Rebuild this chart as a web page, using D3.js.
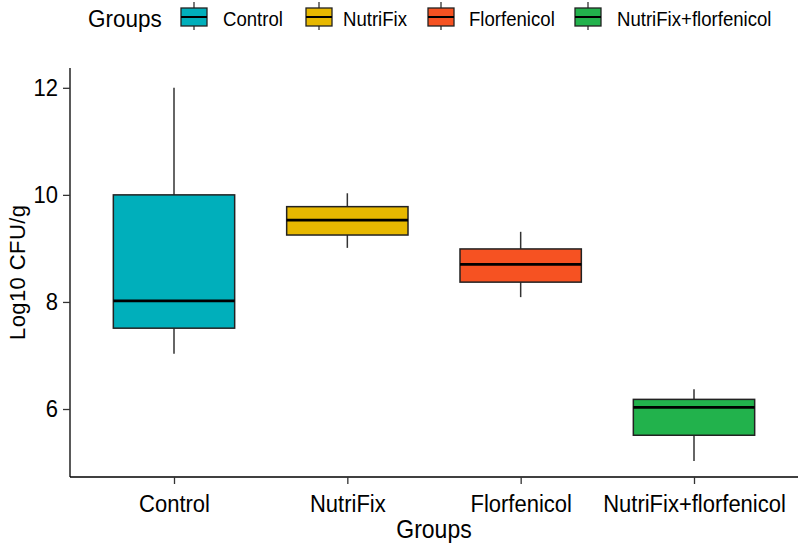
<!DOCTYPE html>
<html>
<head>
<meta charset="utf-8">
<script src="https://cdn.jsdelivr.net/npm/d3@7"></script>
<style>
  body { margin: 0; background: #fff; }
  text { font-family: "Liberation Sans", Arial, sans-serif; }
  text:not(.rot) { transform-box: fill-box; transform-origin: center; transform: scaleY(1.1); }
</style>
</head>
<body>
<svg id="chart" width="800" height="551"></svg>
<script>
const categories = ["Control", "NutriFix", "Florfenicol", "NutriFix+florfenicol"];
const whiskerLow  = [7.03, 9.01, 8.09, 5.03];
const q1          = [7.51, 9.25, 8.37, 5.51];
const medians     = [8.02, 9.53, 8.70, 6.03];
const q3          = [10.0, 9.78, 8.99, 6.18];
const whiskerHigh = [12.0, 10.03, 9.31, 6.37];
const colors      = ["#00AFBB", "#E7B800", "#F65222", "#22B24C"];
const yTicks      = [6, 8, 10, 12];

const data = categories.map((c, i) => ({
  cat: c, lo: whiskerLow[i], q1: q1[i], med: medians[i], q3: q3[i], hi: whiskerHigh[i], color: colors[i]
}));

const svg = d3.select("#chart");
const mL = 70, mR = 798, mT = 68, mB = 477;

const x = d3.scalePoint().domain(categories).range([mL, mR]).padding(0.6);
const y = d3.scaleLinear().domain([4.73, 12.37]).range([mB, mT]);
const boxW = x.step() * 0.7;

// Axes
const yAxis = d3.axisLeft(y).tickValues(yTicks).tickSize(7).tickPadding(5);
const gy = svg.append("g").attr("transform", `translate(${mL},0)`).call(yAxis);
gy.select(".domain").attr("d", `M0,${mT}V${mB}`);
const xAxis = d3.axisBottom(x).tickSize(7).tickPadding(6);
const gx = svg.append("g").attr("transform", `translate(0,${mB})`).call(xAxis);
gx.select(".domain").attr("d", `M${mL},0H${mR}`);
[gx, gy].forEach(g => {
  g.selectAll(".domain").attr("stroke", "#000").attr("stroke-width", 1.3);
  g.selectAll(".tick line").attr("stroke", "#333").attr("stroke-width", 1.3);
  g.selectAll(".tick text").attr("fill", "#000").style("font-size", "22px");
});
gx.selectAll(".tick text").attr("dy", "0.95em");

// Boxes
const g = svg.append("g");
const b = g.selectAll(".box").data(data).join("g").attr("class", "box");
b.append("line")
  .attr("x1", d => x(d.cat)).attr("x2", d => x(d.cat))
  .attr("y1", d => y(d.hi)).attr("y2", d => y(d.q3))
  .attr("stroke", "#333").attr("stroke-width", 1.5);
b.append("line")
  .attr("x1", d => x(d.cat)).attr("x2", d => x(d.cat))
  .attr("y1", d => y(d.q1)).attr("y2", d => y(d.lo))
  .attr("stroke", "#333").attr("stroke-width", 1.5);
b.append("rect")
  .attr("x", d => x(d.cat) - boxW / 2).attr("width", boxW)
  .attr("y", d => y(d.q3)).attr("height", d => y(d.q1) - y(d.q3))
  .attr("fill", d => d.color).attr("stroke", "#222").attr("stroke-width", 1.5);
b.append("line")
  .attr("x1", d => x(d.cat) - boxW / 2).attr("x2", d => x(d.cat) + boxW / 2)
  .attr("y1", d => y(d.med)).attr("y2", d => y(d.med))
  .attr("stroke", "#000").attr("stroke-width", 2.8);

// Axis titles
svg.append("text").attr("x", (mL + mR) / 2).attr("y", 537)
  .attr("text-anchor", "middle").style("font-size", "23px").text("Groups");
svg.append("text").attr("class", "rot").attr("transform", `translate(25,${(mT + mB) / 2}) rotate(-90)`)
  .attr("text-anchor", "middle").style("font-size", "22px").attr("textLength", 135).text("Log10 CFU/g");

// Legend
const lg = svg.append("g");
lg.append("text").attr("x", 88).attr("y", 26).style("font-size", "22.5px").text("Groups");
const keyX = [180, 305, 427, 574];
const labX = [223, 343, 469, 617];
data.forEach((d, i) => {
  const k = lg.append("g").attr("transform", `translate(${keyX[i]},0)`);
  k.append("line").attr("x1", 14).attr("x2", 14).attr("y1", 2).attr("y2", 30)
    .attr("stroke", "#333").attr("stroke-width", 1.3);
  k.append("rect").attr("x", 1).attr("y", 8).attr("width", 26).attr("height", 18)
    .attr("fill", d.color).attr("stroke", "#222").attr("stroke-width", 1.3);
  k.append("line").attr("x1", 1).attr("x2", 27).attr("y1", 17).attr("y2", 17)
    .attr("stroke", "#000").attr("stroke-width", 2);
  lg.append("text").attr("x", labX[i]).attr("y", 25).style("font-size", "18.6px").text(d.cat);
});
</script>
</body>
</html>
